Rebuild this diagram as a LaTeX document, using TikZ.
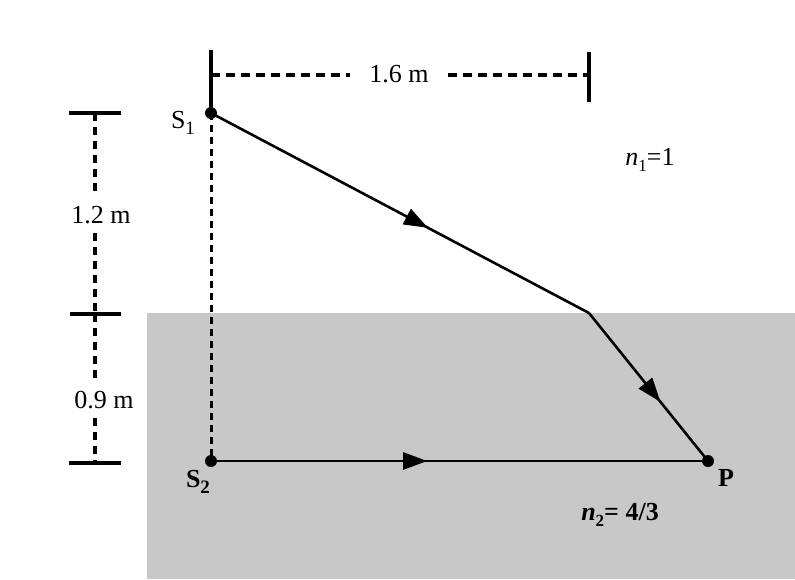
\documentclass[tikz,border=0pt]{standalone}
\usepackage{fontspec}
\setmainfont{Liberation Serif}
\usetikzlibrary{arrows.meta,decorations.markings}
\definecolor{water}{RGB}{200,200,200}
\tikzset{
  dot/.style={circle,fill=black,inner sep=0pt,minimum size=12pt},
  ray/.style={line width=2.6pt},
  tick/.style={line width=3.4pt},
  dim/.style={line width=3.4pt,dash pattern=on 9pt off 6pt},
  vdash/.style={line width=3pt,dash pattern=on 7pt off 5pt},
  lbl/.style={font=\fontsize{26}{30}\selectfont,inner sep=2pt},
  midarrow/.style={postaction={decorate},decoration={markings,
      mark=at position #1 with {\arrow{Triangle[length=24pt,width=17pt]}}}}
}
\begin{document}
\begin{tikzpicture}[x=1pt,y=-1pt]
\useasboundingbox (0,0) rectangle (795,579);
\fill[water] (147,313) rectangle (795,579);

% points
\node[dot] (S1) at (211,113) {};
\node[dot] (S2) at (211,461) {};
\node[dot] (P) at (708,461) {};
\coordinate (B) at (589,313);

% dashed vertical S1-S2
\draw[vdash] (S1.center) -- (S2.center);

% rays
\draw[ray,midarrow=0.574] (S1.center) -- (B);
\draw[ray,midarrow=0.6] (B) -- (P.center);
\draw[ray,midarrow=0.435] (S2.center) -- (P.center);

% top dimension
\coordinate (TLa) at (211,50);
\coordinate (TLb) at (211,108);
\coordinate (TRa) at (589,52);
\coordinate (TRb) at (589,102);
\coordinate (TL) at (211,75);
\coordinate (TR) at (589,75);
\draw[tick] (TLa) -- (TLb);
\draw[tick] (TRa) -- (TRb);
\node[lbl,minimum width=98pt] (d16) at (399,74) {1.6 m};
\draw[dim] (TL) -- (TL -| d16.west);
\draw[dim] (TR -| d16.east) -- (TR);

% left dimension
\coordinate (L1a) at (69,113);
\coordinate (L1b) at (121,113);
\coordinate (L2a) at (70,314);
\coordinate (L2b) at (121,314);
\coordinate (L3a) at (69,463);
\coordinate (L3b) at (121,463);
\coordinate (Lt) at (95,113);
\coordinate (Lm) at (95,314);
\coordinate (Lb) at (95,463);
\draw[tick] (L1a) -- (L1b);
\draw[tick] (L2a) -- (L2b);
\draw[tick] (L3a) -- (L3b);
\node[lbl,minimum height=36pt] (d12) at (101,215) {1.2 m};
\node[lbl,minimum height=36pt] (d09) at (104,400) {0.9 m};
\draw[dim,dash pattern=on 8pt off 6pt] (Lt) -- (Lt |- d12.north);
\draw[dim,dash pattern=on 8pt off 6pt] (Lt |- d12.south) -- (Lm);
\draw[dim,dash pattern=on 8pt off 6pt] (Lm) -- (Lm |- d09.north);
\draw[dim,dash pattern=on 8pt off 6pt] (Lm |- d09.south) -- (Lb);

% labels
\node[lbl] (s1l) at (183,123) {S\raisebox{-6pt}{\fontsize{19}{22}\selectfont 1}};
\node[lbl] (s2l) at (198,482) {\textbf{S}\raisebox{-6pt}{\fontsize{19}{22}\selectfont\bfseries 2}};
\node[lbl] (pl) at (726,478) {\textbf{P}};
\node[lbl] (n1) at (650,160) {\textit{n}\raisebox{-6pt}{\fontsize{17}{20}\selectfont 1}=1};
\node[lbl] (n2) at (620,515) {\bfseries\textit{n}\raisebox{-6pt}{\fontsize{17}{20}\selectfont 2}= 4/3};
\end{tikzpicture}
\end{document}
